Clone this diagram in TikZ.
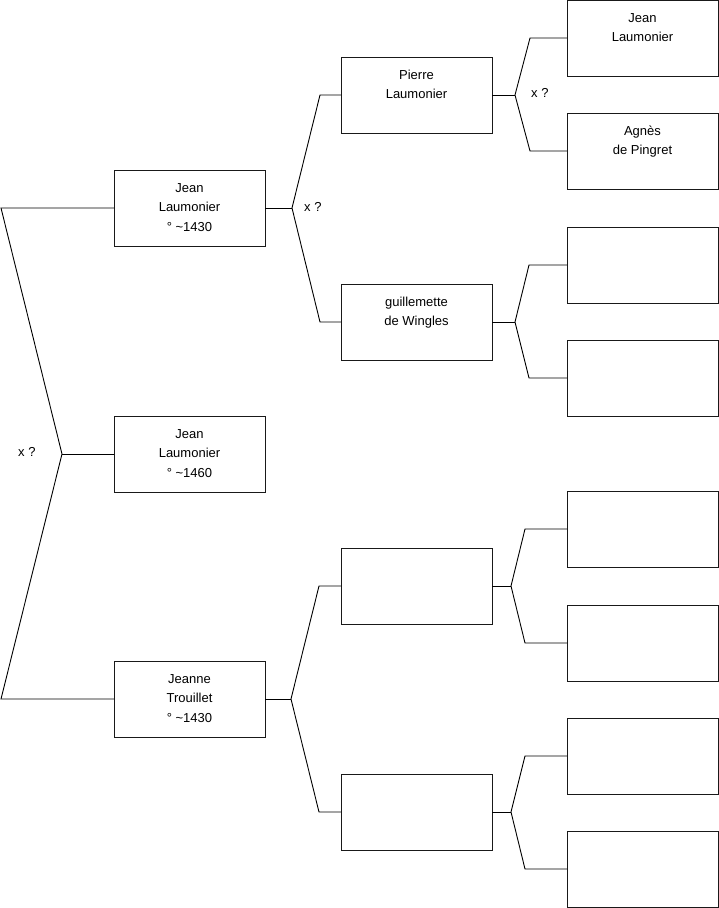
\documentclass[tikz,border=0pt]{standalone}
\usepackage{fontspec}
\setmainfont{Liberation Sans}
\newcommand\boxtxt[1]{\parbox[c][76pt][t]{151pt}{\centering\rule{0pt}{22pt}#1}}
\tikzset{
  person/.style={draw=black!90, line width=1pt, inner sep=0pt, outer sep=0pt,
    font=\fontsize{13}{19.5}\selectfont, text=black},
  link/.style={draw=black, line width=0.9pt},
  xq/.style={anchor=west, inner sep=0pt, font=\fontsize{13}{16}\selectfont}
}
\begin{document}
\begin{tikzpicture}[x=1pt,y=-1pt]
\useasboundingbox (0,0) rectangle (719,908);
% column 1
\node[person] (A1) at (189.5,208) {\boxtxt{Jean\\Laumonier\\° \textasciitilde1430}};
\node[person] (A2) at (189.5,454) {\boxtxt{Jean\\Laumonier\\° \textasciitilde1460}};
\node[person] (A3) at (189.5,699) {\boxtxt{Jeanne\\Trouillet\\° \textasciitilde1430}};
% column 2
\node[person] (B1) at (416.5,95) {\boxtxt{Pierre\\Laumonier}};
\node[person] (B2) at (416.5,322) {\boxtxt{guillemette\\de Wingles}};
\node[person] (B3) at (416.5,586) {\boxtxt{}};
\node[person] (B4) at (416.5,812) {\boxtxt{}};
% column 3
\node[person] (C1) at (642.5,38) {\boxtxt{Jean\\Laumonier}};
\node[person] (C2) at (642.5,151) {\boxtxt{Agnès\\de Pingret}};
\node[person] (C3) at (642.5,265) {\boxtxt{}};
\node[person] (C4) at (642.5,378) {\boxtxt{}};
\node[person] (C5) at (642.5,529) {\boxtxt{}};
\node[person] (C6) at (642.5,643) {\boxtxt{}};
\node[person] (C7) at (642.5,756) {\boxtxt{}};
\node[person] (C8) at (642.5,869) {\boxtxt{}};
% junctions
\coordinate (J0) at (62,454);
\coordinate (J0a) at (1,208);
\coordinate (J0b) at (1,699);
\coordinate (J1) at (292,208);
\coordinate (J3) at (291,699);
\coordinate (K1) at (515,95);
\coordinate (K2) at (515,322);
\coordinate (K3) at (511,586);
\coordinate (K4) at (511,812);
% connectors
\draw[link] (A1.west) -- (J0a) -- (J0) -- (J0b) -- (A3.west);
\draw[link] (J0) -- (A2.west);
\draw[link] (A1.east) -- (J1);
\draw[link] (B1.west) -- (B1.west -| 320,0) -- (J1) -- (B2.west -| 320,0) -- (B2.west);
\draw[link] (A3.east) -- (J3);
\draw[link] (B3.west) -- (B3.west -| 319,0) -- (J3) -- (B4.west -| 319,0) -- (B4.west);
\draw[link] (B1.east) -- (K1);
\draw[link] (C1.west) -- (C1.west -| 530,0) -- (K1) -- (C2.west -| 530,0) -- (C2.west);
\draw[link] (B2.east) -- (K2);
\draw[link] (C3.west) -- (C3.west -| 529,0) -- (K2) -- (C4.west -| 529,0) -- (C4.west);
\draw[link] (B3.east) -- (K3);
\draw[link] (C5.west) -- (C5.west -| 525,0) -- (K3) -- (C6.west -| 525,0) -- (C6.west);
\draw[link] (B4.east) -- (K4);
\draw[link] (C7.west) -- (C7.west -| 525,0) -- (K4) -- (C8.west -| 525,0) -- (C8.west);
% labels
\node[xq] (X0) at (18,452) {x ?};
\node[xq] (X1) at (304,207) {x ?};
\node[xq] (X2) at (531,93) {x ?};
\end{tikzpicture}
\end{document}
